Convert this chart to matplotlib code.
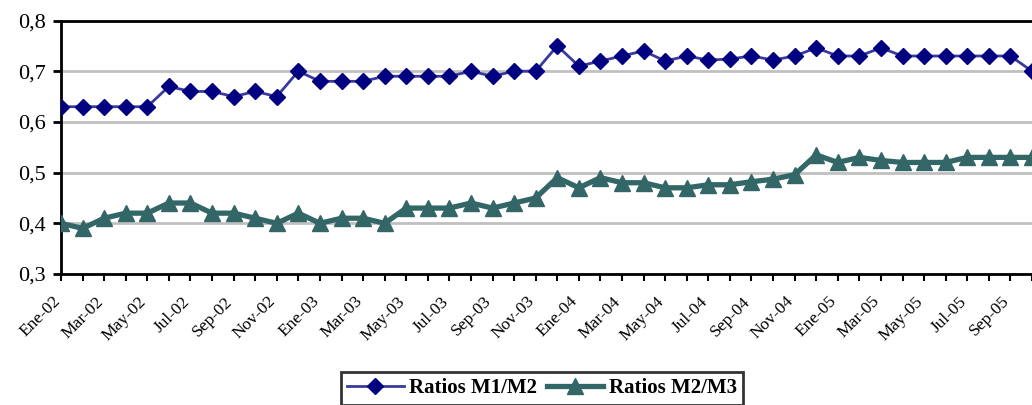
import numpy as np
import matplotlib
matplotlib.use("Agg")
import matplotlib.pyplot as plt
from matplotlib.transforms import ScaledTranslation

# Monthly series, Ene-02 .. Oct-05
meses = ['Ene', 'Feb', 'Mar', 'Abr', 'May', 'Jun', 'Jul', 'Ago', 'Sep', 'Oct', 'Nov', 'Dic']
anios = ['02', '03', '04', '05']
fechas = [m + '-' + a for a in anios for m in meses][:46]

m1_m2 = [0.63, 0.63, 0.63, 0.63, 0.63, 0.67, 0.66, 0.66, 0.65, 0.66, 0.65, 0.70,
         0.68, 0.68, 0.68, 0.69, 0.69, 0.69, 0.69, 0.70, 0.69, 0.70, 0.70, 0.75,
         0.71, 0.72, 0.73, 0.74, 0.72, 0.73, 0.722, 0.724, 0.73, 0.722, 0.73, 0.746,
         0.73, 0.73, 0.746, 0.73, 0.73, 0.73, 0.73, 0.73, 0.73, 0.70]
m2_m3 = [0.40, 0.39, 0.41, 0.42, 0.42, 0.44, 0.44, 0.42, 0.42, 0.41, 0.40, 0.42,
         0.40, 0.41, 0.41, 0.40, 0.43, 0.43, 0.43, 0.44, 0.43, 0.44, 0.45, 0.49,
         0.47, 0.49, 0.48, 0.48, 0.47, 0.47, 0.476, 0.476, 0.482, 0.487, 0.496, 0.535,
         0.52, 0.53, 0.524, 0.52, 0.52, 0.52, 0.53, 0.53, 0.53, 0.53]

plt.rcParams['font.family'] = ['Liberation Serif', 'DejaVu Serif']

fig = plt.figure(figsize=(10.32, 4.05), dpi=100)
ax = fig.add_axes([61 / 1032, 131 / 405, 1 - 61 / 1032, 253.5 / 405])

x = np.arange(len(fechas))
ax.plot(x, m1_m2, color='#3a3a9e', lw=2, marker='D', ms=8,
        mfc='#000080', mec='#000080', label='Ratios M1/M2', zorder=3)
ax.plot(x, m2_m3, color='#336666', lw=3.8, marker='^', ms=12,
        mfc='#336666', mec='#336666', label='Ratios M2/M3', zorder=3)

ax.set_xlim(0, 44.7)
ax.set_ylim(0.3, 0.8)
ax.set_yticks([0.3, 0.4, 0.5, 0.6, 0.7, 0.8])
ax.set_yticklabels(['0,3', '0,4', '0,5', '0,6', '0,7', '0,8'], fontsize=16)
ax.yaxis.grid(True, color='#c0c0c0', lw=2)
ax.set_axisbelow(True)

ax.set_xticks(x)
ax.set_xticklabels([f if i % 2 == 0 else '' for i, f in enumerate(fechas)],
                   rotation=45, ha='right', va='top', rotation_mode='anchor', fontsize=12.5)
ax.tick_params(axis='x', length=5, width=1.5, direction='out', pad=9)
ax.tick_params(axis='y', length=6, width=2, direction='out', pad=5)
shift = ScaledTranslation(-9 / 100, 0, fig.dpi_scale_trans)
for lab in ax.get_xticklabels():
    lab.set_transform(lab.get_transform() + shift)

ax.spines['right'].set_visible(False)
for s in ['left', 'bottom', 'top']:
    ax.spines[s].set_linewidth(2)
    ax.spines[s].set_color('black')

leg = fig.legend(loc='upper left', bbox_to_anchor=(341 / 1032, 1 - 372 / 405),
                 borderaxespad=0, ncol=2, frameon=True, fancybox=False, edgecolor='black',
                 prop={'weight': 'bold', 'size': 15}, handlelength=2.7,
                 borderpad=0.3, columnspacing=0.5, handletextpad=0.25)
leg.get_frame().set_linewidth(2)

fig.savefig('out.png', dpi=100)
